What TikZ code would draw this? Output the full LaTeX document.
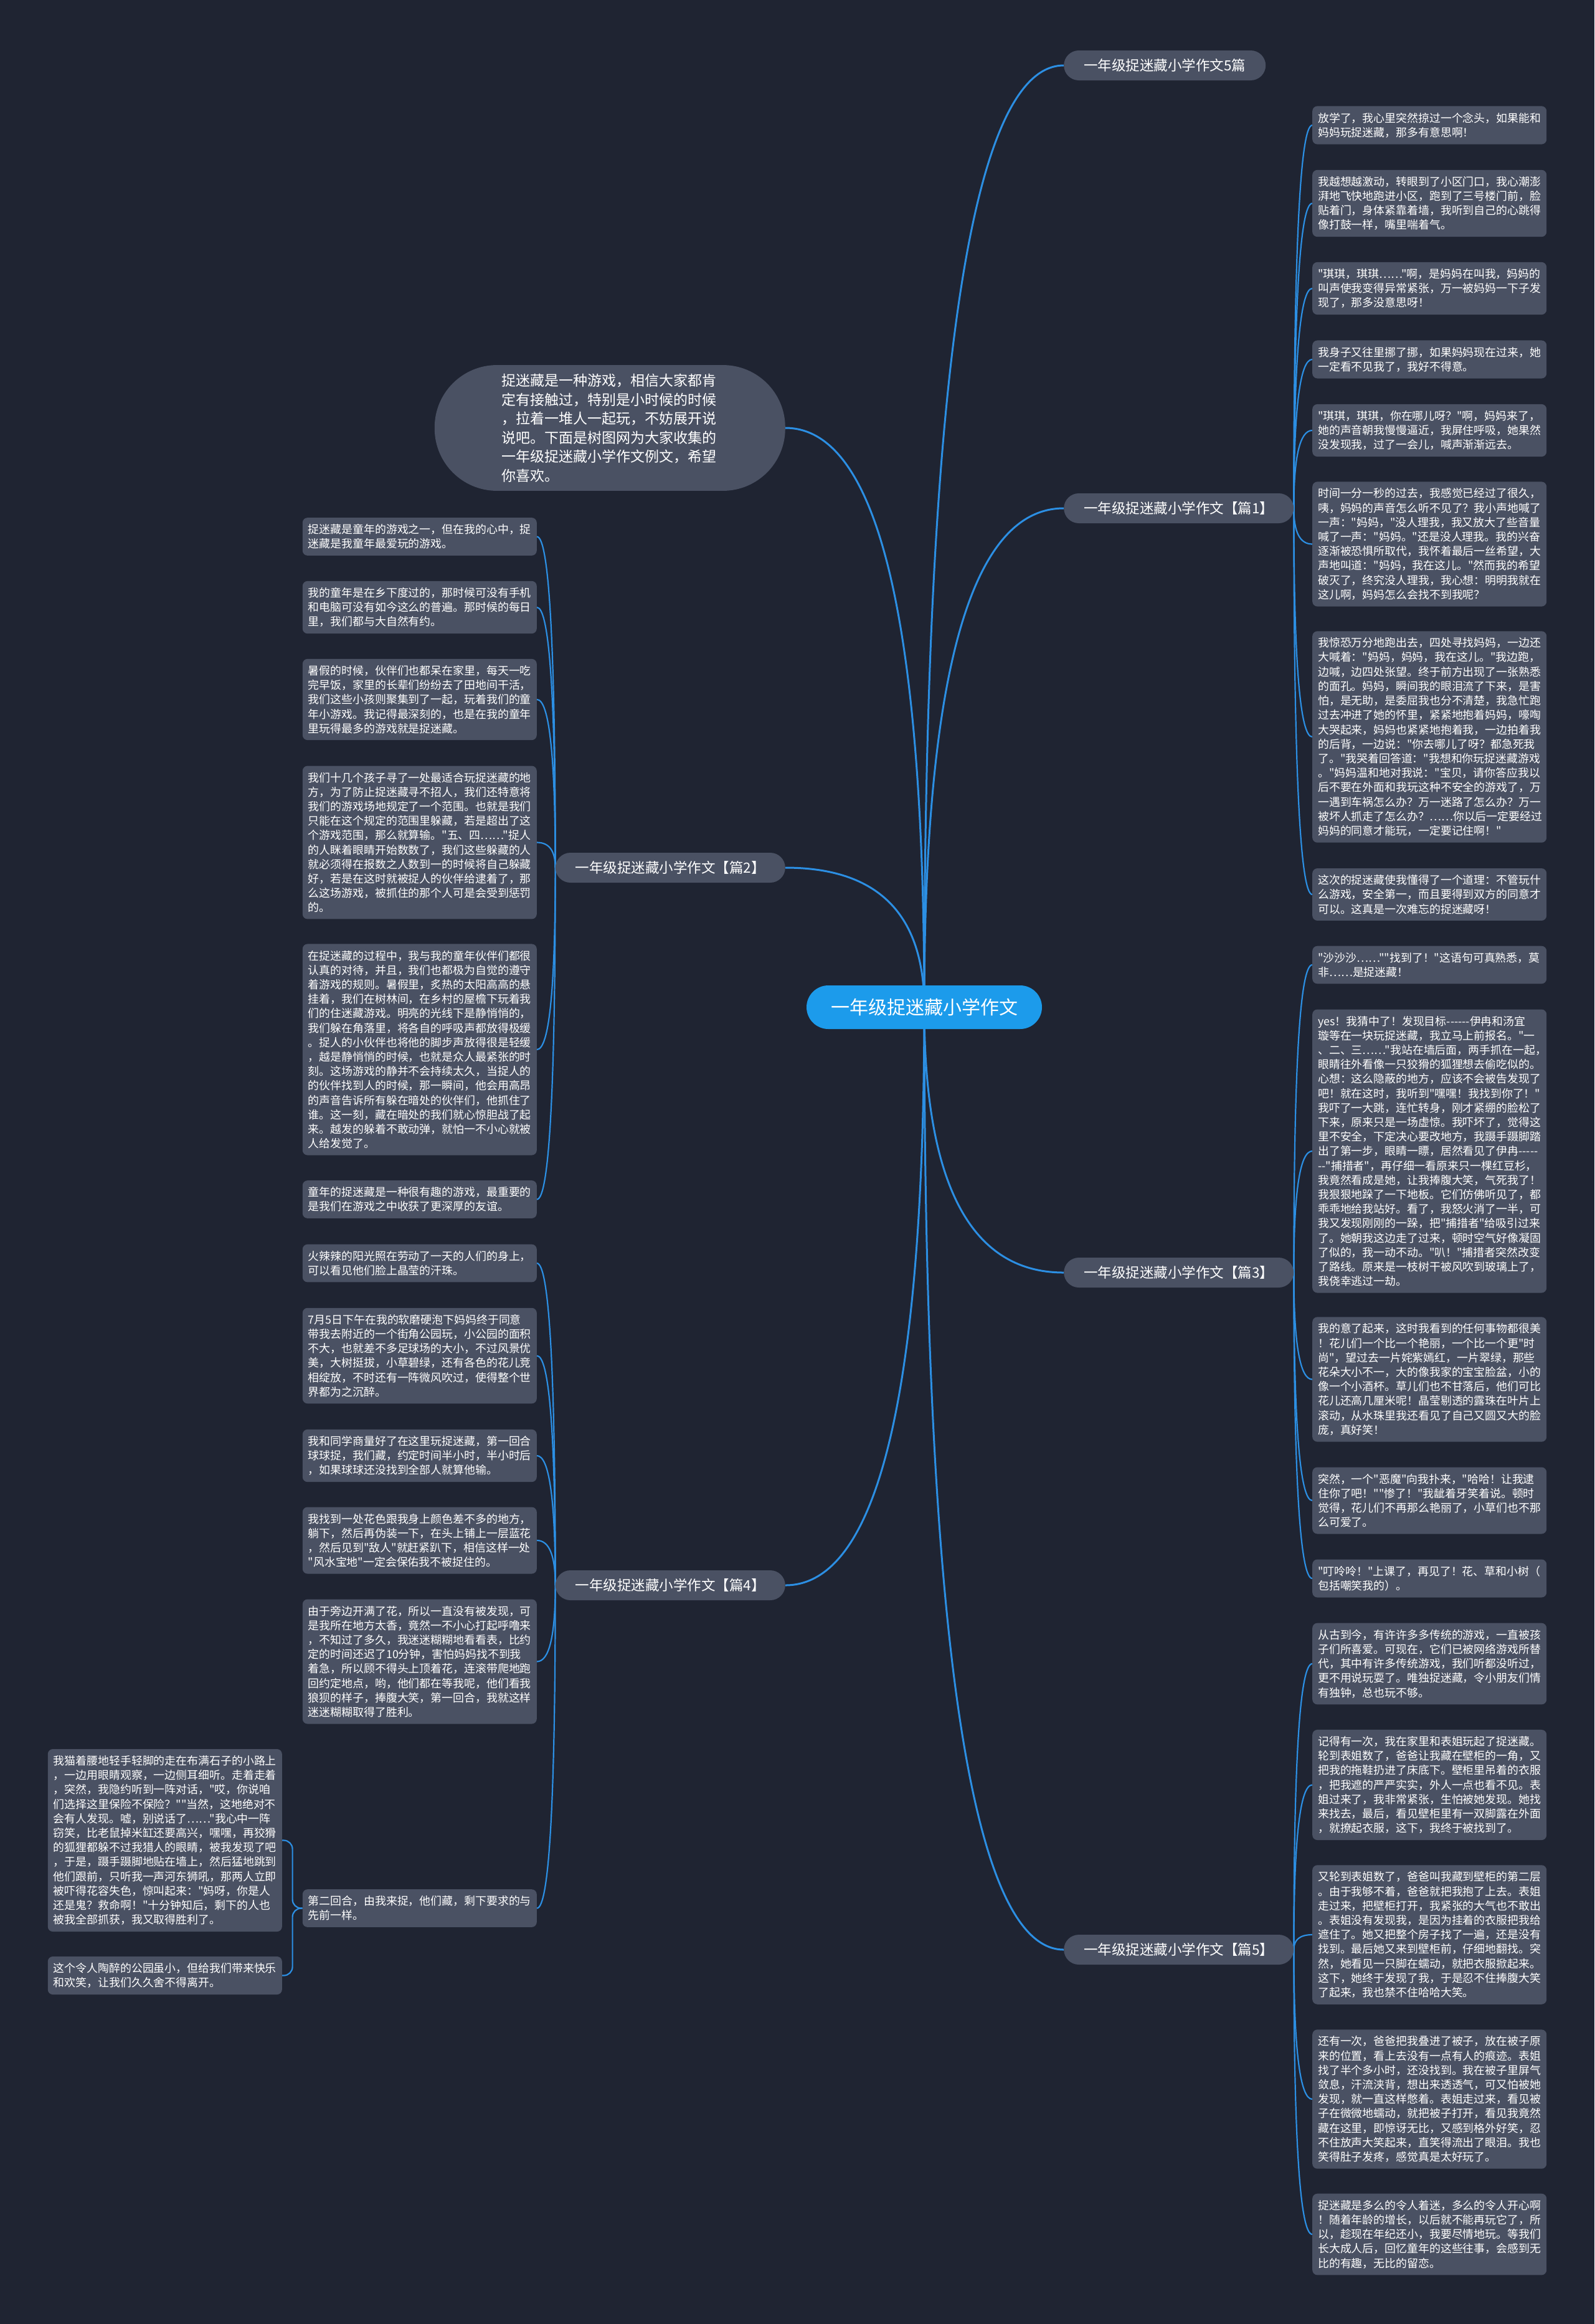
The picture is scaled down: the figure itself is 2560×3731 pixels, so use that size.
\documentclass[tikz,border=0pt]{standalone}
\usepackage{fontspec}
\newfontfamily\cjk{Noto Sans CJK SC}
\usetikzlibrary{calc,backgrounds}
\definecolor{bgnavy}{HTML}{1F2432}
\definecolor{cardgray}{HTML}{4A5163}
\definecolor{rootblue}{HTML}{1C9BEB}
\definecolor{linkblue}{HTML}{2C8FE3}
\exhyphenpenalty=10000
\hyphenpenalty=10000
\tikzset{
  link/.style={draw=linkblue, line width=#1,
    to path={.. controls ($(\tikztostart)!0.667!(\tikztostart|-\tikztotarget)$) and ($(\tikztotarget)!0.667!(\tikztostart|-\tikztotarget)$) .. (\tikztotarget)}},
  link/.default=2.2pt,
  card/.style={fill=cardgray, text=white, rounded corners=8pt, text width=358pt, align=left,
    inner xsep=9pt, inner ysep=10.4pt, font=\cjk\fontsize{17.9}{23.2}\selectfont},
  rcard/.style={card, anchor=west},
  lcard/.style={card, anchor=east},
  topic/.style={fill=cardgray, text=white, rounded corners=24pt, minimum height=48pt,
    inner xsep=32pt, inner ysep=0pt, font=\cjk\fontsize{22.5}{26}\selectfont},
  rootnode/.style={fill=rootblue, text=white, rounded corners=35pt, minimum height=70pt,
    minimum width=378pt, font=\cjk\fontsize{30}{34}\selectfont},
  intro/.style={fill=cardgray, text=white, rounded corners=100pt, anchor=east, text width=347pt,
    align=left, inner xsep=108pt, inner ysep=14pt, font=\cjk\fontsize{23}{30.5}\selectfont},
}
\begin{document}
\begin{tikzpicture}[x=1pt,y=-1pt]
\useasboundingbox (0,0) rectangle (2560,3731);
% centre and topics
\node[rootnode] (root) at (1484,1617) {一年级捉迷藏小学作文};
\node[intro] (intro) at (1261,687) {捉迷藏是一种游戏，相信大家都肯\\定有接触过，特别是小时候的时候\\，拉着一堆人一起玩，不妨展开说\\说吧。下面是树图网为大家收集的\\一年级捉迷藏小学作文例文，希望\\你喜欢。};
\node[topic, anchor=west] (p0) at (1708,105) {一年级捉迷藏小学作文5篇};
\node[topic, anchor=west] (p1) at (1708,816) {一年级捉迷藏小学作文【篇1】};
\node[topic, anchor=east] (p2) at (1261,1393) {一年级捉迷藏小学作文【篇2】};
\node[topic, anchor=west] (p3) at (1708,2043) {一年级捉迷藏小学作文【篇3】};
\node[topic, anchor=east] (p4) at (1261,2545) {一年级捉迷藏小学作文【篇4】};
\node[topic, anchor=west] (p5) at (1708,3130) {一年级捉迷藏小学作文【篇5】};
% 篇1
\node[rcard] (r1) at (2107,201) {放学了，我心里突然掠过一个念头，如果能和\\妈妈玩捉迷藏，那多有意思啊！};
\node[rcard] (r2) at (2107,326.5) {我越想越激动，转眼到了小区门口，我心潮澎\\湃地飞快地跑进小区，跑到了三号楼门前，脸\\贴着门，身体紧靠着墙，我听到自己的心跳得\\像打鼓一样，嘴里喘着气。};
\node[rcard] (r3) at (2107,463) {"琪琪，琪琪……"啊，是妈妈在叫我，妈妈的\\叫声使我变得异常紧张，万一被妈妈一下子发\\现了，那多没意思呀！};
\node[rcard] (r4) at (2107,577) {我身子又往里挪了挪，如果妈妈现在过来，她\\一定看不见我了，我好不得意。};
\node[rcard] (r5) at (2107,691) {"琪琪，琪琪，你在哪儿呀？"啊，妈妈来了，\\她的声音朝我慢慢逼近，我屏住呼吸，她果然\\没发现我，过了一会儿，喊声渐渐远去。};
\node[rcard] (r6) at (2107,873.5) {时间一分一秒的过去，我感觉已经过了很久，\\咦，妈妈的声音怎么听不见了？我小声地喊了\\一声："妈妈，"没人理我，我又放大了些音量\\喊了一声："妈妈。"还是没人理我。我的兴奋\\逐渐被恐惧所取代，我怀着最后一丝希望，大\\声地叫道："妈妈，我在这儿。"然而我的希望\\破灭了，终究没人理我，我心想：明明我就在\\这儿啊，妈妈怎么会找不到我呢？};
\node[rcard] (r7) at (2107,1183) {我惊恐万分地跑出去，四处寻找妈妈，一边还\\大喊着："妈妈，妈妈，我在这儿。"我边跑，\\边喊，边四处张望。终于前方出现了一张熟悉\\的面孔。妈妈，瞬间我的眼泪流了下来，是害\\怕，是无助，是委屈我也分不清楚，我急忙跑\\过去冲进了她的怀里，紧紧地抱着妈妈，嚎啕\\大哭起来，妈妈也紧紧地抱着我，一边拍着我\\的后背，一边说："你去哪儿了呀？都急死我\\了。"我哭着回答道："我想和你玩捉迷藏游戏\\。"妈妈温和地对我说："宝贝，请你答应我以\\后不要在外面和我玩这种不安全的游戏了，万\\一遇到车祸怎么办？万一迷路了怎么办？万一\\被坏人抓走了怎么办？……你以后一定要经过\\妈妈的同意才能玩，一定要记住啊！"};
\node[rcard] (r8) at (2107,1436) {这次的捉迷藏使我懂得了一个道理：不管玩什\\么游戏，安全第一，而且要得到双方的同意才\\可以。这真是一次难忘的捉迷藏呀！};
% 篇3
\node[rcard] (s1) at (2107,1549) {"沙沙沙……""找到了！"这语句可真熟悉，莫\\非……是捉迷藏！};
\node[rcard] (s2) at (2107,1848) {yes！我猜中了！发现目标-{}-{}-{}-{}-{}-伊冉和汤宜\\璇等在一块玩捉迷藏，我立马上前报名。"一\\、二、三……"我站在墙后面，两手抓在一起，\\眼睛往外看像一只狡猾的狐狸想去偷吃似的。\\心想：这么隐蔽的地方，应该不会被告发现了\\吧！就在这时，我听到"嘿嘿！我找到你了！"\\我吓了一大跳，连忙转身，刚才紧绷的脸松了\\下来，原来只是一场虚惊。我吓坏了，觉得这\\里不安全，下定决心要改地方，我蹑手蹑脚踏\\出了第一步，眼睛一瞟，居然看见了伊冉-{}-{}-{}-{}-\\-{}-"捕措者"，再仔细一看原来只一棵红豆杉，\\我竟然看成是她，让我捧腹大笑，气死我了！\\我狠狠地跺了一下地板。它们仿佛听见了，都\\乖乖地给我站好。看了，我怒火消了一半，可\\我又发现刚刚的一跺，把"捕措者"给吸引过来\\了。她朝我这边走了过来，顿时空气好像凝固\\了似的，我一动不动。"叭！"捕措者突然改变\\了路线。原来是一枝树干被风吹到玻璃上了，\\我侥幸逃过一劫。};
\node[rcard] (s3) at (2107,2214.5) {我的意了起来，这时我看到的任何事物都很美\\！花儿们一个比一个艳丽，一个比一个更"时\\尚"，望过去一片姹紫嫣红，一片翠绿，那些\\花朵大小不一，大的像我家的宝宝脸盆，小的\\像一个小酒杯。草儿们也不甘落后，他们可比\\花儿还高几厘米呢！晶莹剔透的露珠在叶片上\\滚动，从水珠里我还看见了自己又圆又大的脸\\庞，真好笑！};
\node[rcard] (s4) at (2107,2409) {突然，一个"恶魔"向我扑来，"哈哈！让我逮\\住你了吧！""惨了！"我龇着牙笑着说。顿时\\觉得，花儿们不再那么艳丽了，小草们也不那\\么可爱了。};
\node[rcard] (s5) at (2107,2534) {"叮呤呤！"上课了，再见了！花、草和小树（\\包括嘲笑我的）。};
% 篇5
\node[rcard] (t1) at (2107,2671) {从古到今，有许许多多传统的游戏，一直被孩\\子们所喜爱。可现在，它们已被网络游戏所替\\代，其中有许多传统游戏，我们听都没听过，\\更不用说玩耍了。唯独捉迷藏，令小朋友们情\\有独钟，总也玩不够。};
\node[rcard] (t2) at (2107,2865.5) {记得有一次，我在家里和表姐玩起了捉迷藏。\\轮到表姐数了，爸爸让我藏在壁柜的一角，又\\把我的拖鞋扔进了床底下。壁柜里吊着的衣服\\，把我遮的严严实实，外人一点也看不见。表\\姐过来了，我非常紧张，生怕被她发现。她找\\来找去，最后，看见壁柜里有一双脚露在外面\\，就撩起衣服，这下，我终于被找到了。};
\node[rcard] (t3) at (2107,3106) {又轮到表姐数了，爸爸叫我藏到壁柜的第二层\\。由于我够不着，爸爸就把我抱了上去。表姐\\走过来，把壁柜打开，我紧张的大气也不敢出\\。表姐没有发现我，是因为挂着的衣服把我给\\遮住了。她又把整个房子找了一遍，还是没有\\找到。最后她又来到壁柜前，仔细地翻找。突\\然，她看见一只脚在蠕动，就把衣服掀起来。\\这下，她终于发现了我，于是忍不住捧腹大笑\\了起来，我也禁不住哈哈大笑。};
\node[rcard] (t4) at (2107,3370) {还有一次，爸爸把我叠进了被子，放在被子原\\来的位置，看上去没有一点有人的痕迹。表姐\\找了半个多小时，还没找到。我在被子里屏气\\敛息，汗流浃背，想出来透透气，可又怕被她\\发现，就一直这样憋着。表姐走过来，看见被\\子在微微地蠕动，就把被子打开，看见我竟然\\藏在这里，即惊讶无比，又感到格外好笑，忍\\不住放声大笑起来，直笑得流出了眼泪。我也\\笑得肚子发疼，感觉真是太好玩了。};
\node[rcard] (t5) at (2107,3587) {捉迷藏是多么的令人着迷，多么的令人开心啊\\！随着年龄的增长，以后就不能再玩它了，所\\以，趁现在年纪还小，我要尽情地玩。等我们\\长大成人后，回忆童年的这些往事，会感到无\\比的有趣，无比的留恋。};
% 篇2
\node[lcard] (u1) at (862,861.5) {捉迷藏是童年的游戏之一，但在我的心中，捉\\迷藏是我童年最爱玩的游戏。};
\node[lcard] (u2) at (862,975) {我的童年是在乡下度过的，那时候可没有手机\\和电脑可没有如今这么的普遍。那时候的每日\\里，我们都与大自然有约。};
\node[lcard] (u3) at (862,1123) {暑假的时候，伙伴们也都呆在家里，每天一吃\\完早饭，家里的长辈们纷纷去了田地间干活，\\我们这些小孩则聚集到了一起，玩着我们的童\\年小游戏。我记得最深刻的，也是在我的童年\\里玩得最多的游戏就是捉迷藏。};
\node[lcard] (u4) at (862,1352.5) {我们十几个孩子寻了一处最适合玩捉迷藏的地\\方，为了防止捉迷藏寻不招人，我们还特意将\\我们的游戏场地规定了一个范围。也就是我们\\只能在这个规定的范围里躲藏，若是超出了这\\个游戏范围，那么就算输。"五、四……"捉人\\的人眯着眼睛开始数数了，我们这些躲藏的人\\就必须得在报数之人数到一的时候将自己躲藏\\好，若是在这时就被捉人的伙伴给逮着了，那\\么这场游戏，被抓住的那个人可是会受到惩罚\\的。};
\node[lcard] (u5) at (862,1685) {在捉迷藏的过程中，我与我的童年伙伴们都很\\认真的对待，并且，我们也都极为自觉的遵守\\着游戏的规则。暑假里，炙热的太阳高高的悬\\挂着，我们在树林间，在乡村的屋檐下玩着我\\们的住迷藏游戏。明亮的光线下是静悄悄的，\\我们躲在角落里，将各自的呼吸声都放得极缓\\。捉人的小伙伴也将他的脚步声放得很是轻缓\\，越是静悄悄的时候，也就是众人最紧张的时\\刻。这场游戏的静并不会持续太久，当捉人的\\的伙伴找到人的时候，那一瞬间，他会用高昂\\的声音告诉所有躲在暗处的伙伴们，他抓住了\\谁。这一刻，藏在暗处的我们就心惊胆战了起\\来。越发的躲着不敢动弹，就怕一不小心就被\\人给发觉了。};
\node[lcard] (u6) at (862,1925.5) {童年的捉迷藏是一种很有趣的游戏，最重要的\\是我们在游戏之中收获了更深厚的友谊。};
% 篇4
\node[lcard] (v1) at (862,2028) {火辣辣的阳光照在劳动了一天的人们的身上，\\可以看见他们脸上晶莹的汗珠。};
\node[lcard] (v2) at (862,2176.5) {7月5日下午在我的软磨硬泡下妈妈终于同意\\带我去附近的一个街角公园玩，小公园的面积\\不大，也就差不多足球场的大小，不过风景优\\美，大树挺拔，小草碧绿，还有各色的花儿竞\\相绽放，不时还有一阵微风吹过，使得整个世\\界都为之沉醉。};
\node[lcard] (v3) at (862,2337) {我和同学商量好了在这里玩捉迷藏，第一回合\\球球捉，我们藏，约定时间半小时，半小时后\\，如果球球还没找到全部人就算他输。};
\node[lcard] (v4) at (862,2473) {我找到一处花色跟我身上颜色差不多的地方，\\躺下，然后再伪装一下，在头上铺上一层蓝花\\，然后见到"敌人"就赶紧趴下，相信这样一处\\"风水宝地"一定会保佑我不被捉住的。};
\node[lcard] (v5) at (862,2667.5) {由于旁边开满了花，所以一直没有被发现，可\\是我所在地方太香，竟然一不小心打起呼噜来\\，不知过了多久，我迷迷糊糊地看看表，比约\\定的时间还迟了10分钟，害怕妈妈找不到我\\着急，所以顾不得头上顶着花，连滚带爬地跑\\回约定地点，哟，他们都在等我呢，他们看我\\狼狈的样子，捧腹大笑，第一回合，我就这样\\迷迷糊糊取得了胜利。};
\node[lcard] (v6) at (862,3063.5) {第二回合，由我来捉，他们藏，剩下要求的与\\先前一样。};
\node[lcard] (w1) at (453,2954.5) {我猫着腰地轻手轻脚的走在布满石子的小路上\\，一边用眼睛观察，一边侧耳细听。走着走着\\，突然，我隐约听到一阵对话，"哎，你说咱\\们选择这里保险不保险？""当然，这地绝对不\\会有人发现。嘘，别说话了……"我心中一阵\\窃笑，比老鼠掉米缸还要高兴，嘿嘿，再狡猾\\的狐狸都躲不过我猎人的眼睛，被我发现了吧\\，于是，蹑手蹑脚地贴在墙上，然后猛地跳到\\他们跟前，只听我一声河东狮吼，那两人立即\\被吓得花容失色，惊叫起来："妈呀，你是人\\还是鬼？救命啊！"十分钟知后，剩下的人也\\被我全部抓获，我又取得胜利了。};
\node[lcard] (w2) at (453,3171.5) {这个令人陶醉的公园虽小，但给我们带来快乐\\和欢笑，让我们久久舍不得离开。};
% connectors
\begin{pgfonlayer}{background}
\fill[bgnavy] (0,0) rectangle (2560,3731);
\foreach \p in {p0,p1,p3,p5}
  \draw[link=3pt] (root.center) to (\p.west);
\foreach \p in {intro,p2,p4}
  \draw[link=3pt] (root.center) to (\p.east);
\foreach \i in {1,...,8}
  \draw[link] (p1.east) to (r\i.west);
\foreach \i in {1,...,5}
  \draw[link] (p3.east) to (s\i.west);
\foreach \i in {1,...,5}
  \draw[link] (p5.east) to (t\i.west);
\foreach \i in {1,...,6}
  \draw[link] (p2.west) to (u\i.east);
\foreach \i in {1,...,6}
  \draw[link] (p4.west) to (v\i.east);
\draw[linkblue, line width=2.2pt, rounded corners=14pt] (v6.west) -- ++(-16,0) |- (w1.east);
\draw[linkblue, line width=2.2pt, rounded corners=14pt] (v6.west) -- ++(-16,0) |- (w2.east);
\end{pgfonlayer}
\end{tikzpicture}
\end{document}
